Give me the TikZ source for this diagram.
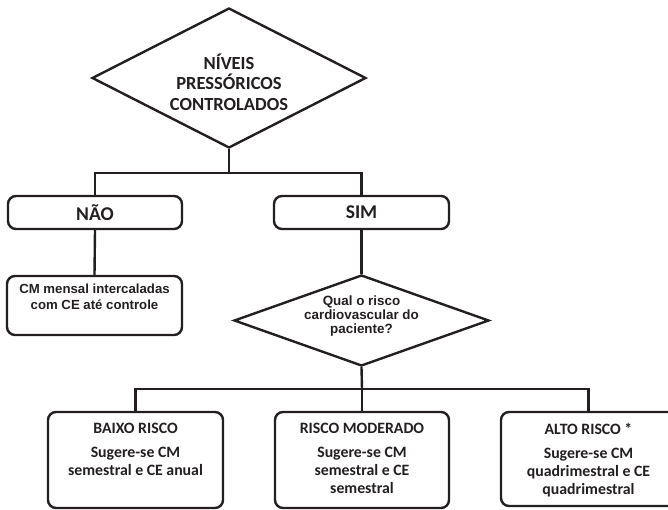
\documentclass[tikz,border=0pt]{standalone}
\usepackage{fontspec}
\setmainfont{Carlito}
\newfontfamily\arialb{Liberation Sans}[BoldFont={* Bold}]
\usetikzlibrary{shapes.geometric}
\definecolor{ink}{HTML}{231F20}
\begin{document}
\begin{tikzpicture}[x=1pt,y=-1pt,
  conn/.style={draw=ink,line width=2.4pt},
  dia/.style={draw=ink,line width=2.4pt,diamond,inner sep=0pt,align=center,text=ink},
  boxr/.style={draw=ink,line width=2.4pt,rectangle,rounded corners=8pt,inner sep=0pt},
  t1/.style={font=\bfseries\fontsize{18.5}{20.5}\selectfont,text=ink,align=center},
  t2/.style={font=\bfseries\fontsize{19.5}{20}\selectfont,text=ink,align=center},
  ta/.style={font=\arialb\bfseries\fontsize{13.2}{16}\selectfont,text=ink,align=center,inner sep=0pt},
  tb/.style={font=\bfseries\fontsize{15.8}{18}\selectfont,text=ink,align=center,inner sep=0pt}
]
\useasboundingbox (0,0) rectangle (668,510);
% top diamond
\node[dia,minimum width=274pt,minimum height=140pt,shape aspect=2] (d1) at (229,78) {};
\node[t1] (d1t) at (229,82) {NÍVEIS\\PRESSÓRICOS\\CONTROLADOS};
% yes / no boxes
\node[boxr,minimum width=174pt,minimum height=33pt] (nao) at (95,212.5) {};
\node[t2] (naot) at (nao.center) {NÃO};
\node[boxr,minimum width=175pt,minimum height=33pt] (sim) at (361.5,212.5) {};
\node[t2] (simt) at (sim.center) {SIM};
% CM box
\node[boxr,minimum width=175pt,minimum height=59pt] (cm) at (94.5,305.5) {};
\node[ta,anchor=north] (cmt) at ([yshift=-9pt]cm.north) {CM mensal intercaladas\\com CE até controle};
% second diamond
\node[dia,minimum width=255pt,minimum height=91pt,shape aspect=2.8] (d2) at (361.5,320.5) {};
\node[ta,font=\arialb\bfseries\fontsize{13.4}{14.2}\selectfont] (d2t) at (361.5,316) {Qual o risco\\cardiovascular do\\paciente?};
% bottom boxes
\node[boxr,minimum width=175pt,minimum height=96pt] (b1) at (135.5,460) {};
\node[boxr,minimum width=174pt,minimum height=96pt] (b2) at (362,460) {};
\node[boxr,minimum width=175pt,minimum height=94pt] (b3) at (588.5,459) {};
\node[tb,anchor=north] (b1t) at ([yshift=-12pt]b1.north) {BAIXO RISCO\\[6pt]Sugere-se CM\\semestral e CE anual};
\node[tb,anchor=north] (b2t) at ([yshift=-12pt]b2.north) {RISCO MODERADO\\[6pt]Sugere-se CM\\semestral e CE\\semestral};
\node[tb,anchor=north] (b3t) at ([yshift=-12pt]b3.north) {ALTO RISCO *\\[6pt]Sugere-se CM\\quadrimestral e CE\\quadrimestral};
% connectors
\coordinate (j1) at (229,173);
\coordinate (j2) at (362,389);
\draw[conn] (d1.south) -- (j1);
\draw[conn] (nao.north) |- (j1) -| (sim.north);
\draw[conn] (nao.south) -- (cm.north);
\draw[conn] (sim.south) -- (d2.north);
\draw[conn] (d2.south) -- (j2);
\draw[conn] (b1.north) |- (j2) -| (b3.north);
\draw[conn] (j2) -- (b2.north);
\end{tikzpicture}
\end{document}
